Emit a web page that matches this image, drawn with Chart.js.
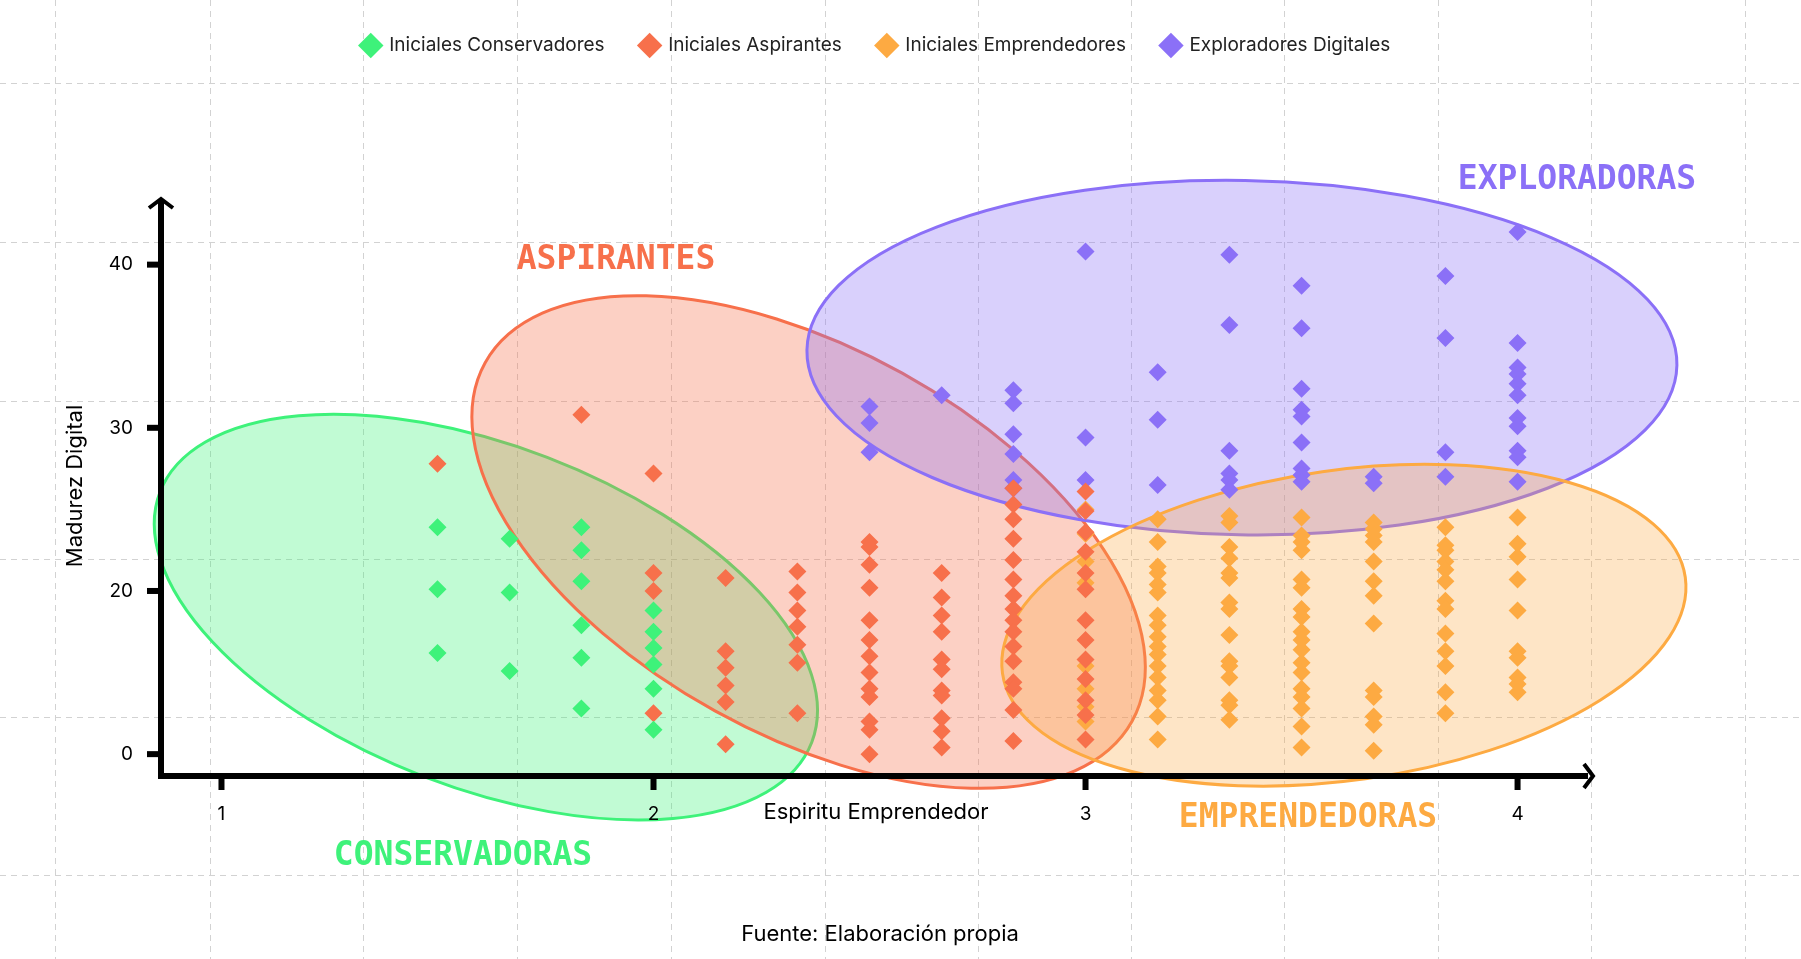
<!DOCTYPE html>
<html>
<head>
<meta charset="utf-8">
<script src="https://cdn.jsdelivr.net/npm/chart.js@4"></script>
<style>
  html, body { margin: 0; padding: 0; background: #fff; }
  #wrap { width: 1801px; height: 959px; }
</style>
</head>
<body>
<div id="wrap"><canvas id="myChart" width="1801" height="959"></canvas></div>
<script>
// x columns: Espiritu Emprendedor, y: Madurez Digital (axis values 10..40, first tick shown as "0")
const conservadoresX = [1.5,1.5,1.5, 1.667,1.667,1.667, 1.833,1.833,1.833,1.833,1.833,1.833, 2,2,2,2,2,2];
const conservadoresY = [23.9,20.1,16.2, 23.2,19.9,15.1, 23.9,22.5,20.6,17.9,15.9,12.8, 18.8,17.5,16.5,15.5,14.0,11.5];

const aspirantesCols = [
    [1.5,   [27.8]],
    [1.833, [30.8]],
    [2,     [27.2, 21.1, 20.0, 12.5]],
    [2.167, [20.8, 16.3, 15.3, 14.2, 13.2, 10.6]],
    [2.333, [21.2, 19.9, 18.8, 17.8, 16.7, 15.6, 12.5]],
    [2.5,   [23.0, 22.7, 21.6, 20.2, 18.2, 17.0, 16.0, 15.0, 14.0, 13.5, 12.0, 11.5, 10.0]],
    [2.667, [21.1, 19.6, 18.5, 17.5, 15.8, 15.2, 13.9, 13.6, 12.2, 11.4, 10.4]],
    [2.833, [26.3, 25.3, 24.4, 23.2, 21.9, 20.7, 19.7, 18.9, 18.2, 17.5, 16.6, 15.7, 14.4, 14.0, 12.7, 10.8]],
    [3,     [26.1, 24.9, 23.6, 22.4, 21.1, 20.1, 18.2, 17.0, 15.8, 14.6, 13.3, 12.4, 10.9]],
];

const emprendedoresCols = [
    [3,     [25.0, 23.5, 21.8, 20.5, 15.4, 14.0, 12.9, 12.0]],
    [3.167, [24.4, 23.0, 21.5, 21.1, 20.4, 19.9, 18.5, 17.9, 17.2, 16.6, 16.1, 15.4, 14.7, 13.9, 13.3, 12.3, 10.9]],
    [3.333, [24.6, 24.2, 22.7, 22.0, 21.1, 20.8, 19.3, 18.9, 17.3, 15.7, 15.4, 14.7, 13.3, 13.0, 12.1]],
    [3.5,   [24.5, 23.4, 23.0, 22.5, 20.7, 20.2, 18.9, 18.4, 17.5, 17.0, 16.4, 15.6, 15.0, 14.0, 13.5, 12.8, 11.7, 10.4]],
    [3.667, [24.2, 23.8, 23.4, 23.0, 21.8, 20.6, 19.7, 18.0, 13.9, 13.5, 12.3, 11.8, 10.2]],
    [3.833, [23.9, 22.8, 22.5, 21.8, 21.3, 20.6, 19.4, 18.9, 17.4, 16.3, 15.4, 13.8, 12.5]],
    [4,     [24.5, 22.9, 22.1, 20.7, 18.8, 16.3, 15.9, 14.7, 14.3, 13.8]],
];

const exploradoresCols = [
    [2.5,   [31.3, 30.3, 28.5]],
    [2.667, [32.0]],
    [2.833, [32.3, 31.5, 29.6, 28.4, 26.8, 26.3]],
    [3,     [40.8, 29.4, 26.8]],
    [3.167, [33.4, 30.5, 26.5]],
    [3.333, [40.6, 36.3, 28.6, 27.2, 26.8, 26.2]],
    [3.5,   [38.7, 36.1, 32.4, 31.1, 30.7, 29.1, 27.5, 27.1, 26.7]],
    [3.667, [27.0, 26.6]],
    [3.833, [39.3, 35.5, 28.5, 27.0]],
    [4,     [42.0, 35.2, 33.7, 33.3, 32.7, 32.0, 30.6, 30.1, 28.6, 28.2, 26.7]],
];

const xTicks = [1, 2, 3, 4];
const yTicks = [10, 20, 30, 40];
const yTickLabels = ['0', '20', '30', '40'];

const colGreen = '#3ef27a';
const colRed = '#f7704b';
const colOrange = '#fdaa42';
const colPurple = '#8b70f7';

// ellipse: centre (data), semi-axes in x-units, rotation in degrees (screen)
const groups = [
    { name: 'CONSERVADORAS', color: colGreen,  fill: 'rgba(62,242,122,0.32)',  cx: 1.612, cy: 18.4, a: 0.808, b: 0.396, rot: 21, lx: 463,  ly: 856 },
    { name: 'ASPIRANTES',    color: colRed,    fill: 'rgba(247,112,75,0.33)',  cx: 2.359, cy: 23.0, a: 0.856, b: 0.447, rot: 29, lx: 616,  ly: 260 },
    { name: 'EXPLORADORAS',  color: colPurple, fill: 'rgba(139,112,247,0.33)', cx: 3.362, cy: 34.3, a: 1.007, b: 0.41,  rot: 1,  lx: 1577, ly: 180 },
    { name: 'EMPRENDEDORAS', color: colOrange, fill: 'rgba(253,170,66,0.30)',  cx: 3.598, cy: 17.9, a: 0.798, b: 0.359, rot: -8, lx: 1308, ly: 818 },
];

function toPoints(cols) {
    const pts = [];
    cols.forEach(c => c[1].forEach(v => pts.push({ x: c[0], y: v })));
    return pts;
}

const data = {
    datasets: [
        { label: 'Iniciales Conservadores', data: conservadoresX.map((x, i) => ({ x: x, y: conservadoresY[i] })), backgroundColor: colGreen },
        { label: 'Iniciales Aspirantes', data: toPoints(aspirantesCols), backgroundColor: colRed },
        { label: 'Iniciales Emprendedores', data: toPoints(emprendedoresCols), backgroundColor: colOrange },
        { label: 'Exploradores Digitales', data: toPoints(exploradoresCols), backgroundColor: colPurple },
    ]
};
data.datasets.forEach(d => {
    d.pointStyle = 'rectRot';
    d.pointRadius = 9;
    d.pointHoverRadius = 9;
    d.borderWidth = 0;
});

// wanted pixel positions for the axis
const AX = { left: 161, right: 1591, top: 201, bottom: 776, xMin: 0.86, xMax: 4.17, yMin: 8.66, yMax: 43.9 };

const decor = {
    id: 'decor',
    beforeDraw(chart) {
        const ctx = chart.ctx;
        ctx.save();
        ctx.strokeStyle = '#d2d2d2';
        ctx.lineWidth = 1;
        ctx.setLineDash([6, 5]);
        [55, 210, 363, 517, 671, 825, 978, 1131, 1284, 1438, 1591, 1745].forEach(x => {
            ctx.beginPath(); ctx.moveTo(x + 0.5, 0); ctx.lineTo(x + 0.5, 959); ctx.stroke();
        });
        [83, 242, 401, 559, 717, 875].forEach(y => {
            ctx.beginPath(); ctx.moveTo(0, y + 0.5); ctx.lineTo(1801, y + 0.5); ctx.stroke();
        });
        ctx.restore();
    },
    beforeDatasetsDraw(chart) {
        const ctx = chart.ctx;
        const xs = chart.scales.x, ys = chart.scales.y;
        const ppu = xs.getPixelForValue(2) - xs.getPixelForValue(1);
        ctx.save();
        groups.forEach(g => {
            ctx.beginPath();
            ctx.ellipse(xs.getPixelForValue(g.cx), ys.getPixelForValue(g.cy), g.a * ppu, g.b * ppu, g.rot * Math.PI / 180, 0, Math.PI * 2);
            ctx.fillStyle = g.fill;
            ctx.fill();
            ctx.lineWidth = 3;
            ctx.strokeStyle = g.color;
            ctx.stroke();
        });
        ctx.restore();
    },
    afterDraw(chart) {
        const ctx = chart.ctx;
        const xs = chart.scales.x, ys = chart.scales.y;
        const x0 = xs.getPixelForValue(AX.xMin), y0 = ys.getPixelForValue(AX.yMin);
        const xEnd = xs.getPixelForValue(AX.xMax), yEnd = ys.getPixelForValue(AX.yMax);
        ctx.save();
        ctx.fillStyle = '#000';
        // axes
        ctx.fillRect(x0 - 3, yEnd, 6, y0 - yEnd + 3);
        ctx.fillRect(x0 - 3, y0 - 3, xEnd - x0, 6);
        // arrow heads
        ctx.lineWidth = 4;
        ctx.strokeStyle = '#000';
        ctx.beginPath(); ctx.moveTo(x0 - 12, yEnd + 7); ctx.lineTo(x0, yEnd - 2); ctx.lineTo(x0 + 12, yEnd + 7); ctx.stroke();
        ctx.beginPath(); ctx.moveTo(xEnd - 7, y0 - 12); ctx.lineTo(xEnd + 2, y0); ctx.lineTo(xEnd - 7, y0 + 12); ctx.stroke();
        // ticks
        ctx.font = '19px Inter';
        ctx.textAlign = 'center';
        ctx.textBaseline = 'middle';
        xTicks.forEach(t => {
            const px = xs.getPixelForValue(t);
            ctx.fillRect(px - 3, y0, 6, 14);
            ctx.fillText(String(t), px, 814);
        });
        ctx.textAlign = 'right';
        yTicks.forEach((t, i) => {
            const py = ys.getPixelForValue(t);
            ctx.fillRect(x0 - 14, py - 3, 14, 6);
            ctx.fillText(yTickLabels[i], 133, py);
        });
        // titles
        ctx.font = '22px Inter';
        ctx.textAlign = 'center';
        ctx.fillText('Espiritu Emprendedor', 876, 812);
        ctx.fillText('Fuente: Elaboración propia', 880, 934);
        ctx.save();
        ctx.translate(75, 486);
        ctx.rotate(-Math.PI / 2);
        ctx.fillText('Madurez Digital', 0, 0);
        ctx.restore();
        // group names
        ctx.font = 'bold 33px "DejaVu Sans Mono"';
        groups.forEach(g => {
            ctx.fillStyle = g.color;
            ctx.fillText(g.name, g.lx, g.ly);
        });
        ctx.restore();
    },
    afterLayout(chart) {
        // keep y pixel scale fixed whatever height the legend takes
        if (chart.$fixed) return;
        chart.$fixed = true;
        const a = chart.chartArea;
        const per = (AX.bottom - AX.top) / (AX.yMax - AX.yMin);
        chart.options.scales.y.max = AX.yMin + (a.bottom - a.top) / per;
        setTimeout(() => chart.update('none'), 0);
    }
};

const config = {
    type: 'scatter',
    data: data,
    options: {
        responsive: false,
        animation: false,
        layout: { padding: { left: AX.left, right: 1801 - AX.right, top: 0, bottom: 959 - AX.bottom } },
        plugins: {
            legend: {
                display: true,
                labels: {
                    usePointStyle: true,
                    pointStyle: 'rectRot',
                    boxWidth: 18,
                    boxHeight: 18,
                    padding: 36,
                    color: '#222',
                    font: { family: 'Inter', size: 19 },
                },
            },
            tooltip: { enabled: false },
        },
        scales: {
            x: { display: false, min: AX.xMin, max: AX.xMax },
            y: { display: false, min: AX.yMin, max: 50 },
        },
    },
    plugins: [decor],
};

const myChart = new Chart(document.getElementById('myChart'), config);
</script>
</body>
</html>
